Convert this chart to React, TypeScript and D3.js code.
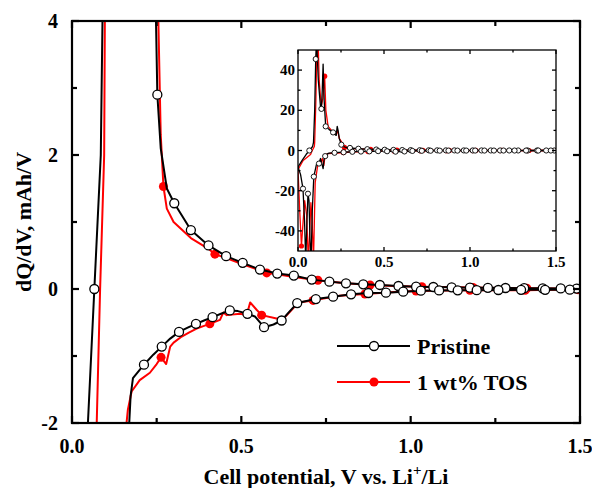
import React from "react";
import * as d3 from "d3";

type P = [number, number];

// ---------- data ----------
const xTicksMain = [0, 0.5, 1.0, 1.5];
const xMinorMain = [0.25, 0.75, 1.25];
const yTicksMain = [-2, 0, 2, 4];
const yMinorMain = [-1, 1, 3];
const xTicksInset = [0, 0.5, 1.0, 1.5];
const xMinorInset = [0.25, 0.75, 1.25];
const yTicksInset = [-40, -20, 0, 20, 40];
const yMinorInset = [-30, -10, 10, 30];

const seriesNames = ["Pristine", "1 wt% TOS"];

const pristineCharge: P[] = [
  [0, -8.2], [0.025, -4.8], [0.047, -2], [0.066, 0], [0.085, 2], [0.09, 4], [0.097, 20],
  [0.103, 45.5], [0.108, 56], [0.118, 35], [0.131, 21.5], [0.136, 20.7], [0.141, 30],
  [0.146, 43], [0.152, 25], [0.161, 12], [0.18, 10.5], [0.204, 9], [0.222, 7.5],
  [0.228, 12], [0.233, 10], [0.24, 6], [0.248, 4], [0.252, 2.9], [0.262, 2.1],
  [0.28, 1.5], [0.302, 1.28], [0.351, 0.88], [0.403, 0.65], [0.455, 0.49], [0.504, 0.39],
  [0.555, 0.29], [0.606, 0.23], [0.655, 0.2], [0.708, 0.14], [0.76, 0.11], [0.809, 0.085],
  [0.86, 0.07], [0.909, 0.06], [0.964, 0.045], [1.016, 0.034], [1.067, 0.03], [1.121, 0.025],
  [1.175, 0.02], [1.228, 0.018], [1.28, 0.015], [1.335, 0.012], [1.39, 0.01], [1.443, 0.008],
  [1.5, 0.005],
];
const pristineChargeMarkers: P[] = [
  [0.066, 0], [0.103, 45.5], [0.136, 20.7], [0.161, 12], [0.204, 9], [0.252, 2.9], [0.302, 1.28],
  [0.351, 0.88], [0.403, 0.65], [0.455, 0.49], [0.504, 0.39], [0.555, 0.29], [0.606, 0.23],
  [0.655, 0.2], [0.708, 0.14], [0.76, 0.11], [0.809, 0.085], [0.86, 0.07], [0.909, 0.06],
  [0.964, 0.045], [1.016, 0.034], [1.067, 0.03], [1.121, 0.025], [1.175, 0.02], [1.228, 0.018],
  [1.28, 0.015], [1.335, 0.012], [1.39, 0.01], [1.443, 0.008], [1.49, 0.006],
];
const pristineDischarge: P[] = [
  [0, -8.2], [0.015, -12], [0.029, -19], [0.038, -35], [0.045, -55], [0.052, -35],
  [0.058, -21.5], [0.064, -25], [0.07, -45], [0.076, -55], [0.083, -30], [0.092, -13],
  [0.107, -7], [0.122, -6.5], [0.131, -4], [0.146, -9], [0.152, -4], [0.158, -2.8],
  [0.169, -2], [0.173, -1.6], [0.18, -1.33], [0.2125, -1.13], [0.24, -0.98], [0.265, -0.86],
  [0.29, -0.74], [0.316, -0.64], [0.34, -0.58], [0.366, -0.52], [0.39, -0.47], [0.415, -0.42],
  [0.44, -0.37], [0.466, -0.32], [0.49, -0.33], [0.518, -0.37], [0.54, -0.41], [0.567, -0.57],
  [0.595, -0.53], [0.619, -0.47], [0.64, -0.35], [0.665, -0.21], [0.72, -0.15], [0.771, -0.115],
  [0.824, -0.08], [0.875, -0.06], [0.927, -0.055], [0.978, -0.04], [1.03, -0.025], [1.084, -0.022],
  [1.139, -0.02], [1.195, -0.017], [1.259, -0.015], [1.326, -0.013], [1.397, -0.012],
  [1.47, -0.01], [1.5, -0.01],
];
const pristineDischargeMarkers: P[] = [
  [0.029, -19], [0.058, -21.5], [0.092, -13], [0.122, -6.5], [0.158, -2.8], [0.2125, -1.13],
  [0.265, -0.86], [0.316, -0.64], [0.366, -0.52], [0.415, -0.42], [0.466, -0.32], [0.518, -0.37],
  [0.567, -0.57], [0.619, -0.47], [0.665, -0.21], [0.72, -0.15], [0.771, -0.115], [0.824, -0.08],
  [0.875, -0.06], [0.927, -0.055], [0.978, -0.04], [1.03, -0.025], [1.084, -0.022], [1.139, -0.02],
  [1.195, -0.017], [1.259, -0.015], [1.326, -0.013], [1.397, -0.012], [1.47, -0.01],
];
const tosCharge: P[] = [
  [0, -9.5], [0.03, -5], [0.073, -2], [0.083, 0], [0.095, 2], [0.097, 4], [0.104, 25],
  [0.11, 52], [0.116, 58], [0.123, 35], [0.135, 22], [0.145, 26], [0.155, 37], [0.162, 20],
  [0.175, 12], [0.2, 9.5], [0.222, 8], [0.23, 10], [0.24, 6], [0.255, 4], [0.262, 2.3],
  [0.27, 1.53], [0.28, 1.2], [0.3, 1.0], [0.351, 0.76], [0.403, 0.6], [0.422, 0.52],
  [0.455, 0.46], [0.504, 0.37], [0.555, 0.28], [0.575, 0.24], [0.606, 0.22], [0.655, 0.18],
  [0.726, 0.13], [0.8, 0.09], [0.88, 0.06], [0.95, 0.045], [1.033, 0.035], [1.1, 0.028],
  [1.184, 0.022], [1.26, 0.016], [1.343, 0.012], [1.42, 0.008], [1.5, 0.005],
];
const tosChargeMarkers: P[] = [
  [0.155, 37], [0.27, 1.53], [0.422, 0.52], [0.575, 0.24], [0.726, 0.13], [0.88, 0.06],
  [1.033, 0.035], [1.184, 0.022], [1.343, 0.012], [1.5, 0.005],
];
const tosDischarge: P[] = [
  [0, -9.5], [0.01, -30], [0.02, -47.5], [0.03, -35], [0.039, -25], [0.05, -32], [0.06, -55],
  [0.068, -40], [0.075, -26], [0.082, -35], [0.09, -55], [0.1, -16], [0.115, -7], [0.13, -6],
  [0.142, -4], [0.15, -7.5], [0.156, -3.5], [0.161, -2], [0.165, -1.8], [0.176, -1.53],
  [0.2, -1.36], [0.23, -1.25], [0.25, -1.12], [0.263, -1.02], [0.278, -1.12], [0.29, -0.86],
  [0.3, -0.8], [0.324, -0.71], [0.345, -0.65], [0.368, -0.59], [0.39, -0.55], [0.407, -0.52],
  [0.437, -0.46], [0.447, -0.35], [0.457, -0.39], [0.496, -0.37], [0.516, -0.39], [0.526, -0.2],
  [0.545, -0.31], [0.56, -0.39], [0.604, -0.44], [0.629, -0.42], [0.653, -0.29], [0.668, -0.2],
  [0.712, -0.17], [0.79, -0.1], [0.865, -0.075], [0.94, -0.05], [1.016, -0.03], [1.1, -0.022],
  [1.175, -0.02], [1.26, -0.018], [1.338, -0.02], [1.42, -0.012], [1.5, -0.01],
];
const tosDischargeMarkers: P[] = [
  [0.02, -47.5], [0.263, -1.02], [0.407, -0.52], [0.56, -0.39], [0.712, -0.17], [0.865, -0.075],
  [1.016, -0.03], [1.175, -0.02], [1.338, -0.02], [1.494, -0.01],
];

// ---------- layout ----------
const W = 592, H = 488;
const M = { l: 72, r: 580, t: 21, b: 423 };
const I = { l: 298, r: 556, t: 50, b: 251 };
const FONT = "'Liberation Serif', 'Times New Roman', serif";
const RED = "#ff0000";

type Scales = { x: d3.ScaleLinear<number, number>; y: d3.ScaleLinear<number, number> };

function Series({ s, clip, lw, r, sw }: { s: Scales; clip: string; lw: number; r: number; sw: number }) {
  const line = d3.line<P>().x((d) => s.x(d[0])).y((d) => s.y(d[1]));
  return (
    <g clipPath={`url(#${clip})`}>
      <path d={line(tosDischarge) || ""} fill="none" stroke={RED} strokeWidth={lw} strokeLinejoin="round" />
      <path d={line(tosCharge) || ""} fill="none" stroke={RED} strokeWidth={lw} strokeLinejoin="round" />
      {[...tosChargeMarkers, ...tosDischargeMarkers].map((d, i) => (
        <circle key={"r" + i} cx={s.x(d[0])} cy={s.y(d[1])} r={r} fill={RED} />
      ))}
      <path d={line(pristineDischarge) || ""} fill="none" stroke="#000" strokeWidth={lw} strokeLinejoin="round" />
      <path d={line(pristineCharge) || ""} fill="none" stroke="#000" strokeWidth={lw} strokeLinejoin="round" />
      {[...pristineChargeMarkers, ...pristineDischargeMarkers].map((d, i) => (
        <circle key={"b" + i} cx={s.x(d[0])} cy={s.y(d[1])} r={r} fill="#fff" stroke="#000" strokeWidth={sw} />
      ))}
    </g>
  );
}

function Frame({ s, box, xt, xm, yt, ym, maj, min, sw }: any) {
  const els: any[] = [];
  xt.forEach((v: number, i: number) => {
    const x = s.x(v);
    els.push(<line key={"xb" + i} x1={x} x2={x} y1={box.b} y2={box.b - maj} />);
    els.push(<line key={"xt" + i} x1={x} x2={x} y1={box.t} y2={box.t + maj} />);
  });
  xm.forEach((v: number, i: number) => {
    const x = s.x(v);
    els.push(<line key={"xmb" + i} x1={x} x2={x} y1={box.b} y2={box.b - min} />);
    els.push(<line key={"xmt" + i} x1={x} x2={x} y1={box.t} y2={box.t + min} />);
  });
  yt.forEach((v: number, i: number) => {
    const y = s.y(v);
    els.push(<line key={"yl" + i} x1={box.l} x2={box.l + maj} y1={y} y2={y} />);
    els.push(<line key={"yr" + i} x1={box.r} x2={box.r - maj} y1={y} y2={y} />);
  });
  ym.forEach((v: number, i: number) => {
    const y = s.y(v);
    els.push(<line key={"yml" + i} x1={box.l} x2={box.l + min} y1={y} y2={y} />);
    els.push(<line key={"ymr" + i} x1={box.r} x2={box.r - min} y1={y} y2={y} />);
  });
  return (
    <g stroke="#000" strokeWidth={sw} fill="none">
      {els}
      <rect x={box.l} y={box.t} width={box.r - box.l} height={box.b - box.t} />
    </g>
  );
}

export default function App() {
  const main: Scales = {
    x: d3.scaleLinear().domain([0, 1.5]).range([M.l, M.r]),
    y: d3.scaleLinear().domain([-2, 4]).range([M.b, M.t]),
  };
  const inset: Scales = {
    x: d3.scaleLinear().domain([0, 1.5]).range([I.l, I.r]),
    y: d3.scaleLinear().domain([-50, 50]).range([I.b, I.t]),
  };
  const fmtX = d3.format(".1f");
  const legendY = [346, 382];
  return (
    <svg width={W} height={H} style={{ position: "absolute", left: 0, top: 0, background: "#fff" }} fontFamily={FONT} fontWeight="bold">
      <defs>
        <clipPath id="clipMain"><rect x={M.l} y={M.t} width={M.r - M.l} height={M.b - M.t} /></clipPath>
        <clipPath id="clipInset"><rect x={I.l} y={I.t} width={I.r - I.l} height={I.b - I.t} /></clipPath>
      </defs>
      <rect x={0} y={0} width={W} height={H} fill="#fff" />

      <Series s={main} clip="clipMain" lw={2} r={4.5} sw={1.3} />
      <Frame s={main} box={M} xt={xTicksMain} xm={xMinorMain} yt={yTicksMain} ym={yMinorMain} maj={7} min={5} sw={2.2} />

      {xTicksMain.map((v) => (
        <text key={"xl" + v} x={main.x(v)} y={453} textAnchor="middle" fontSize={20}>{fmtX(v)}</text>
      ))}
      {yTicksMain.map((v) => (
        <text key={"yl" + v} x={58} y={main.y(v) + 7} textAnchor="end" fontSize={20}>{v}</text>
      ))}
      <text x={(M.l + M.r) / 2} y={484} textAnchor="middle" fontSize={22}>
        Cell potential, V vs. Li<tspan dy={-9} fontSize={15}>+</tspan><tspan dy={9}>/Li</tspan>
      </text>
      <text transform={`translate(31,${(M.t + M.b) / 2}) rotate(-90)`} textAnchor="middle" fontSize={22}>
        dQ/dV, mAh/V
      </text>

      {/* inset */}
      <rect x={I.l} y={I.t} width={I.r - I.l} height={I.b - I.t} fill="#fff" />
      <Series s={inset} clip="clipInset" lw={1.3} r={2.6} sw={0.9} />
      <Frame s={inset} box={I} xt={xTicksInset} xm={xMinorInset} yt={yTicksInset} ym={yMinorInset} maj={4} min={2.5} sw={1.3} />
      {xTicksInset.map((v) => (
        <text key={"ixl" + v} x={inset.x(v)} y={267} textAnchor="middle" fontSize={15}>{fmtX(v)}</text>
      ))}
      {yTicksInset.map((v) => (
        <text key={"iyl" + v} x={295} y={inset.y(v) + 5} textAnchor="end" fontSize={15}>{v}</text>
      ))}

      {/* legend */}
      {seriesNames.map((name, i) => (
        <g key={name}>
          <line x1={337} x2={410} y1={legendY[i]} y2={legendY[i]} stroke={i === 0 ? "#000" : RED} strokeWidth={2} />
          {i === 0 ? (
            <circle cx={374} cy={legendY[i]} r={4.5} fill="#fff" stroke="#000" strokeWidth={1.3} />
          ) : (
            <circle cx={374} cy={legendY[i]} r={4.5} fill={RED} />
          )}
          <text x={417} y={legendY[i] + 7.5} fontSize={22}>{name}</text>
        </g>
      ))}
    </svg>
  );
}
